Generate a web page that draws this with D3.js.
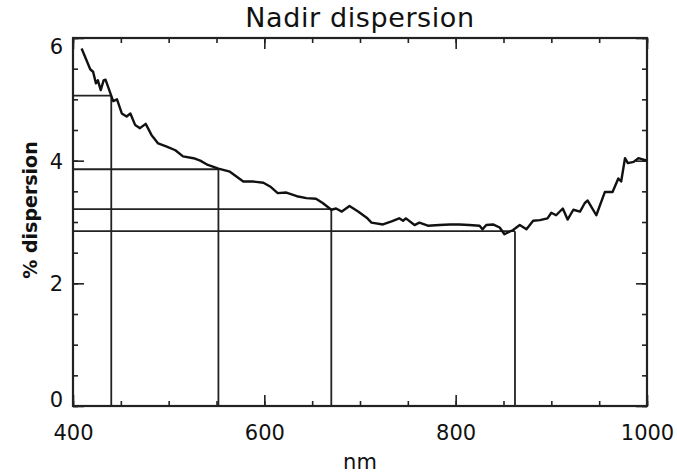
<!DOCTYPE html>
<html>
<head>
<meta charset="utf-8">
<script src="https://cdn.jsdelivr.net/npm/d3@7"></script>
<style>
  body { margin: 0; background: #fff; }
  text { font-family: "DejaVu Sans", sans-serif; fill: #111; }
</style>
</head>
<body>
<script>
const WIDTH = 677;
const HEIGHT = 476;

// wavelength (nm) and % dispersion
const wavelengths = [409, 414, 418, 421, 424, 426, 429, 432, 434, 439, 442, 446, 451, 456, 460, 465, 470, 476, 482,
  489, 498, 507, 515, 526, 533, 541, 552, 564, 578, 588, 599, 606, 614, 623, 634, 644, 654, 661, 670, 675, 681,
  689, 698, 707, 712, 724, 733, 741, 745, 748, 757, 762, 771, 783, 794, 804, 814, 825, 828, 832, 839, 846, 851,
  860, 867, 874, 881, 888, 896, 900, 905, 912, 917, 923, 930, 935, 938, 947, 956, 964, 970, 973, 977, 980, 986,
  991, 1000];
const dispersion = [5.83, 5.64, 5.49, 5.45, 5.26, 5.31, 5.15, 5.31, 5.32, 5.10, 4.97, 5.00, 4.77, 4.72, 4.77, 4.58,
  4.53, 4.60, 4.42, 4.28, 4.23, 4.17, 4.07, 4.04, 4.00, 3.93, 3.87, 3.82, 3.66, 3.66, 3.64, 3.58, 3.47, 3.48, 3.42,
  3.39, 3.38, 3.31, 3.20, 3.22, 3.17, 3.26, 3.17, 3.07, 2.99, 2.96, 3.01, 3.06, 3.02, 3.06, 2.95, 2.99, 2.94, 2.95,
  2.96, 2.96, 2.95, 2.94, 2.88, 2.95, 2.96, 2.91, 2.80, 2.87, 2.95, 2.88, 3.02, 3.03, 3.06, 3.15, 3.11, 3.22, 3.04,
  3.20, 3.17, 3.31, 3.35, 3.11, 3.49, 3.49, 3.71, 3.66, 4.04, 3.96, 3.98, 4.04, 4.00];

// marked bands
const bandNm = [440, 552, 670, 862];
const bandValue = [5.06, 3.86, 3.21, 2.85];

const xTicks = [400, 600, 800, 1000];
const yTicks = [0, 2, 4, 6];

const margin = {top: 38, right: 30, bottom: 70, left: 73};

const svg = d3.select('body')
  .append('svg')
  .attr('width', WIDTH)
  .attr('height', HEIGHT);

const x = d3.scaleLinear().domain([400, 1000]).range([margin.left, WIDTH - margin.right]);
const y = d3.scaleLinear().domain([0, 6]).range([HEIGHT - margin.bottom, margin.top]);

const xMinor = d3.range(400, 1001, 50);
const yMinor = d3.range(0, 6.01, 0.5);

// minor ticks, all four sides
svg.append('g').attr('transform', `translate(0,${y(0)})`)
  .call(d3.axisBottom(x).tickValues(xMinor).tickSizeInner(-5).tickSizeOuter(0).tickFormat(''));
svg.append('g').attr('transform', `translate(0,${y(6)})`)
  .call(d3.axisTop(x).tickValues(xMinor).tickSizeInner(-5).tickSizeOuter(0).tickFormat(''));
svg.append('g').attr('transform', `translate(${x(400)},0)`)
  .call(d3.axisLeft(y).tickValues(yMinor).tickSizeInner(-5).tickSizeOuter(0).tickFormat(''));
svg.append('g').attr('transform', `translate(${x(1000)},0)`)
  .call(d3.axisRight(y).tickValues(yMinor).tickSizeInner(-5).tickSizeOuter(0).tickFormat(''));

// major ticks with labels
const xAxis = svg.append('g').attr('transform', `translate(0,${y(0)})`)
  .call(d3.axisBottom(x).tickValues(xTicks).tickSizeInner(-11).tickSizeOuter(0).tickPadding(19).tickFormat(d3.format('d')));
svg.append('g').attr('transform', `translate(0,${y(6)})`)
  .call(d3.axisTop(x).tickValues(xTicks).tickSizeInner(-11).tickSizeOuter(0).tickFormat(''));
const yAxis = svg.append('g').attr('transform', `translate(${x(400)},0)`)
  .call(d3.axisLeft(y).tickValues(yTicks).tickSizeInner(-11).tickSizeOuter(0).tickPadding(10).tickFormat(d3.format('d')));
svg.append('g').attr('transform', `translate(${x(1000)},0)`)
  .call(d3.axisRight(y).tickValues(yTicks).tickSizeInner(-11).tickSizeOuter(0).tickFormat(''));

svg.selectAll('.tick line').attr('stroke', '#222').attr('stroke-width', 1.6);
svg.selectAll('.domain').remove();

xAxis.selectAll('text').attr('font-size', 21).attr('fill', '#111').attr('font-family', 'DejaVu Sans');
yAxis.selectAll('text').attr('font-size', 21).attr('fill', '#111').attr('font-family', 'DejaVu Sans')
  .attr('dy', d => d === 0 ? '-0.0em' : d === 6 ? '0.75em' : '0.36em');

// frame
svg.append('rect')
  .attr('x', x(400)).attr('y', y(6))
  .attr('width', x(1000) - x(400)).attr('height', y(0) - y(6))
  .attr('fill', 'none').attr('stroke', '#222').attr('stroke-width', 2.2);

// band reference lines
const bands = bandNm.map((nm, i) => ({nm, v: bandValue[i]}));
svg.selectAll('line.h').data(bands).enter().append('line')
  .attr('x1', x(400)).attr('x2', d => x(d.nm))
  .attr('y1', d => y(d.v)).attr('y2', d => y(d.v))
  .attr('stroke', '#222').attr('stroke-width', 1.8);
svg.selectAll('line.v').data(bands).enter().append('line')
  .attr('x1', d => x(d.nm)).attr('x2', d => x(d.nm))
  .attr('y1', y(0)).attr('y2', d => y(d.v))
  .attr('stroke', '#222').attr('stroke-width', 1.8);

// dispersion curve
const line = d3.line().x(d => x(d[0])).y(d => y(d[1]));
svg.append('path')
  .datum(wavelengths.map((w, i) => [w, dispersion[i]]))
  .attr('d', line)
  .attr('fill', 'none')
  .attr('stroke', '#111')
  .attr('stroke-width', 2.4)
  .attr('stroke-linejoin', 'round');

// titles
svg.append('text')
  .attr('x', (x(400) + x(1000)) / 2).attr('y', 27)
  .attr('text-anchor', 'middle').attr('font-size', 27).attr('letter-spacing', 0.6)
  .text('Nadir dispersion');

svg.append('text')
  .attr('x', (x(400) + x(1000)) / 2).attr('y', 469)
  .attr('text-anchor', 'middle').attr('font-size', 21)
  .text('nm');

svg.append('text')
  .attr('transform', `translate(37,210) rotate(-90)`)
  .attr('text-anchor', 'middle').attr('font-size', 19).attr('font-weight', 'bold')
  .text('% dispersion');
</script>
</body>
</html>
